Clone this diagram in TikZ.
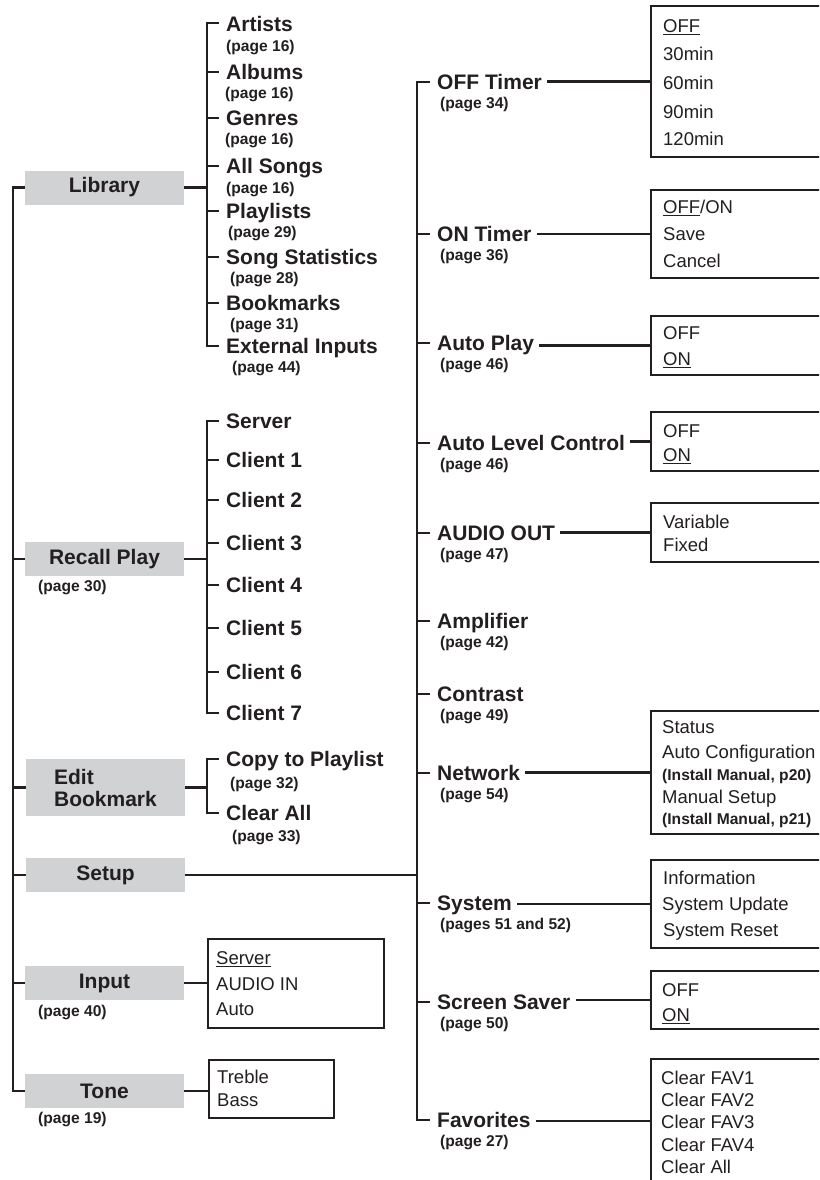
\documentclass[tikz,border=0pt]{standalone}
\usepackage{fontspec}
\setmainfont{Liberation Sans}
\definecolor{ink}{RGB}{35,31,32}
\definecolor{boxgray}{RGB}{209,210,212}
\newcommand\myul[1]{\setbox0=\hbox{#1}\rlap{\rule[-2.6pt]{\wd0}{1.3pt}}\box0}
\tikzset{
  mainlbl/.style={anchor=base west, inner sep=0pt, font=\fontsize{21}{22}\selectfont\bfseries, text=ink},
  pglbl/.style={anchor=base west, inner sep=0pt, font=\fontsize{15.6}{16}\selectfont\bfseries, text=ink},
  optlbl/.style={anchor=base west, inner sep=0pt, font=\fontsize{18.5}{19}\selectfont, text=ink},
  menubox/.style={fill=boxgray, minimum width=159pt, minimum height=34pt, inner sep=0pt, font=\fontsize{21}{22}\selectfont\bfseries, text=ink},
  ln/.style={draw=ink, line width=2.4pt},
  optbox/.style={draw=ink, line width=2.2pt, inner sep=0pt, anchor=west},
}
\begin{document}
\begin{tikzpicture}[x=1pt,y=-1pt]
\clip (0,0) rectangle (819,1180);
\fill[white] (0,0) rectangle (819,1180);

% ---------- left menu boxes ----------
\node[menubox] (lib) at (104.5,187.5) {Library};
\node[menubox] (rec) at (104.5,559) {Recall Play};
\node[menubox, minimum height=57pt, align=left] (edb) at (105.5,787.5) {Edit\\Bookmark};
\node[menubox] (set) at (105.5,875) {Setup};
\node[menubox] (inp) at (104.5,983) {Input};
\node[menubox] (ton) at (104.5,1091) {Tone};
\node[pglbl] (recp) at (38,591.5) {(page 30)};
\node[pglbl] (inpp) at (38,1016.5) {(page 40)};
\node[pglbl] (tonp) at (38,1123.5) {(page 19)};

% left trunk
\draw[ln] (lib.west) -- ++(-12,0) coordinate (lt) |- (ton.west);
\foreach \n in {rec,edb,set,inp} \draw[ln] (\n.west) -- (\n.west -| lt);

% ---------- Library branch ----------
\coordinate (lbj) at (207,187.5);
\draw[ln] (lib.east) -- (lbj);
\draw[ln] (219,23) -- (207,23) -- (207,346) -- (219,346);
\foreach \y/\t/\p/\px/\py/\n in {
  24/Artists/16/226/47/la,
  72/Albums/16/225/94/lb,
  118/Genres/16/225/140/lc,
  166/All Songs/16/226/189/ld,
  211/Playlists/29/228/233/le,
  257/Song Statistics/28/230/279/lf,
  303/Bookmarks/31/230/325/lg,
  346/External Inputs/44/232/368/lh}{
  \node[mainlbl] (\n) at (226,{\y+7.5}) {\t};
  \node[pglbl] (\n p) at (\px,{\py+4.5}) {(page \p)};
}
\foreach \y in {72,118,166,211,257,303} \draw[ln] (207,\y) -- (219,\y);

% ---------- Recall Play branch ----------
\draw[ln] (rec.east) -- (207,559);
\draw[ln] (219,421) -- (207,421) -- (207,713) -- (219,713);
\foreach \y/\t/\n in {421/Server/ra,460/Client 1/rb,500/Client 2/rc,543/Client 3/rd,585/Client 4/re,628/Client 5/rf,672/Client 6/rg,713/Client 7/rh}{
  \node[mainlbl] (\n) at (226,{\y+7.5}) {\t};
}
\foreach \y in {460,500,543,585,628,672} \draw[ln] (207,\y) -- (219,\y);

% ---------- Edit Bookmark branch ----------
\draw[ln] (edb.east) -- (207,787.5);
\draw[ln] (219,759) -- (207,759) -- (207,813) -- (219,813);
\node[mainlbl] (cp) at (226,766.5) {Copy to Playlist};
\node[pglbl] (cpp) at (230,788.5) {(page 32)};
\node[mainlbl] (ca) at (226,820.5) {Clear All};
\node[pglbl] (cap) at (232,841.5) {(page 33)};

% ---------- Input / Tone option boxes ----------
\node[optbox, minimum width=176pt, minimum height=89pt] (ibox) at (207,983.5) {};
\draw[ln] (inp.east) -- (inp.east -| ibox.west);
\node[optlbl] at (216,964.6) {\myul{Server}};
\node[optlbl] at (216,990.6) {AUDIO IN};
\node[optlbl] at (216,1015.6) {Auto};

\node[optbox, minimum width=125pt, minimum height=58pt] (tbox) at (208,1089) {};
\draw[ln] (ton.east) -- (ton.east -| tbox.west);
\node[optlbl] at (217,1083.6) {Treble};
\node[optlbl] at (217,1106.6) {Bass};

% ---------- Setup branch ----------
\coordinate (mt) at (417,875);
\draw[ln] (set.east) -- (mt);
\draw[ln] (430,82) -- (417,82) -- (417,1120) -- (430,1120);
\foreach \y/\t/\p/\n in {
  82/OFF Timer/page 34/sa,
  234/ON Timer/page 36/sb,
  343/Auto Play/page 46/sc,
  443/Auto Level Control/page 46/sd,
  533/AUDIO OUT/page 47/se,
  621/Amplifier/page 42/sf,
  694/Contrast/page 49/sg,
  773/Network/page 54/sh,
  903/System/pages 51 and 52/si,
  1002/Screen Saver/page 50/sj,
  1120/Favorites/page 27/sk}{
  \node[mainlbl] (\n) at (437,{\y+7.5}) {\t};
  \node[pglbl] (\n p) at (440,{\y+22+4.5}) {(\p)};
}
\foreach \y in {234,343,443,533,621,694,773,903,1002} \draw[ln] (417,\y) -- (430,\y);

% option boxes of Setup
\node[optbox, minimum width=200pt, minimum height=151pt] (ba) at (650,81.5) {};
\node[optbox, minimum width=200pt, minimum height=88pt] (bb) at (650,234) {};
\node[optbox, minimum width=200pt, minimum height=59pt] (bc) at (650,345.5) {};
\node[optbox, minimum width=200pt, minimum height=59pt] (bd) at (650,441.5) {};
\node[optbox, minimum width=200pt, minimum height=59pt] (be) at (650,532.5) {};
\node[optbox, minimum width=200pt, minimum height=123pt] (bh) at (650,772.5) {};
\node[optbox, minimum width=200pt, minimum height=88pt] (bi) at (650,904) {};
\node[optbox, minimum width=200pt, minimum height=58pt] (bj) at (650,1000) {};
\node[optbox, minimum width=200pt, minimum height=124pt] (bk) at (650,1121) {};

\foreach \a/\b in {sa/ba,sb/bb,sc/bc,sd/bd,se/be,sh/bh,si/bi,sj/bj,sk/bk}
  \draw[ln] ([xshift=5pt]\a.east |- \b.west) -- (\b.west);

% option texts
\node[optlbl] at (663,32.6) {\myul{OFF}};
\node[optlbl] at (663,60.6) {30min};
\node[optlbl] at (663,89.6) {60min};
\node[optlbl] at (663,118.6) {90min};
\node[optlbl] at (663,145.6) {120min};

\node[optlbl] at (663,213.6) {\myul{OFF}/ON};
\node[optlbl] at (663,240.6) {Save};
\node[optlbl] at (663,267.6) {Cancel};

\node[optlbl] at (663,339.6) {OFF};
\node[optlbl] at (663,365.6) {\myul{ON}};

\node[optlbl] at (663,437.6) {OFF};
\node[optlbl] at (663,461.6) {\myul{ON}};

\node[optlbl] at (663,528.6) {Variable};
\node[optlbl] at (663,551.6) {Fixed};

\node[optlbl] at (662,733.6) {Status};
\node[optlbl] at (662,758.6) {Auto Configuration};
\node[pglbl] at (662,780.5) {(Install Manual, p20)};
\node[optlbl] at (662,803.6) {Manual Setup};
\node[pglbl] at (662,824.5) {(Install Manual, p21)};

\node[optlbl] at (663,884.6) {Information};
\node[optlbl] at (662,910.6) {System Update};
\node[optlbl] at (663,936.6) {System Reset};

\node[optlbl] at (662,996.6) {OFF};
\node[optlbl] at (662,1021.6) {\myul{ON}};

\node[optlbl] at (661,1084.6) {Clear FAV1};
\node[optlbl] at (661,1106.6) {Clear FAV2};
\node[optlbl] at (661,1128.6) {Clear FAV3};
\node[optlbl] at (661,1151.6) {Clear FAV4};
\node[optlbl] at (661,1173.6) {Clear All};
\end{tikzpicture}
\end{document}
